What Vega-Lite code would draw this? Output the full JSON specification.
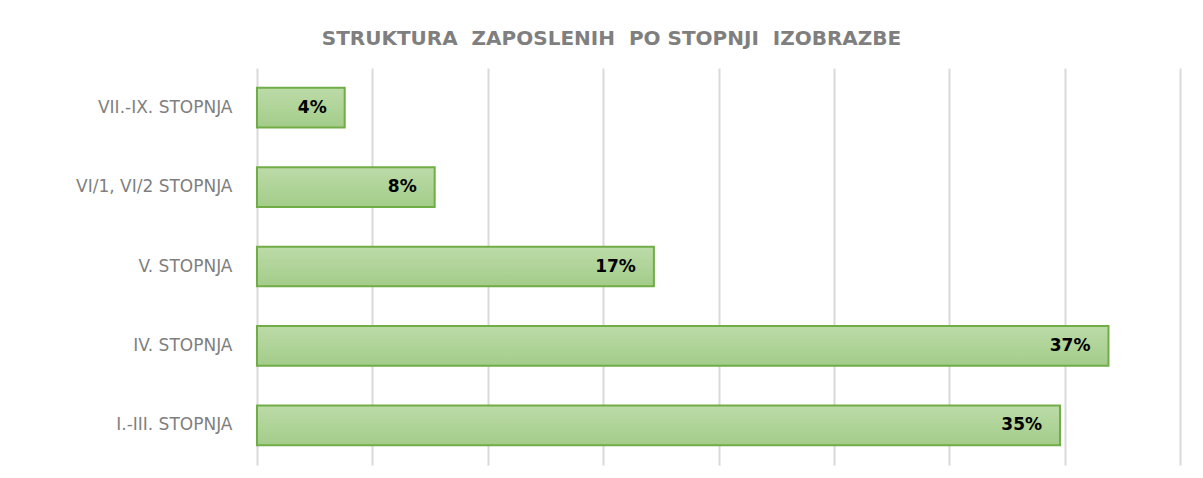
{
  "$schema": "https://vega.github.io/schema/vega-lite/v6.json",
  "width": 923,
  "height": 397,
  "autosize": {"type": "none"},
  "padding": {"left": 257, "top": 68, "right": 23, "bottom": 13},
  "background": "white",
  "title": {
    "text": "STRUKTURA\u00a0\u00a0ZAPOSLENIH\u00a0\u00a0PO STOPNJI\u00a0\u00a0IZOBRAZBE",
    "font": "DejaVu Sans",
    "fontSize": 20,
    "fontWeight": "bold",
    "color": "#7f7f7f",
    "anchor": "middle",
    "dx": -107,
    "offset": 19
  },
  "data": {
    "values": [
      {"level": "VII.-IX. STOPNJA", "share": 0.038},
      {"level": "VI/1, VI/2 STOPNJA", "share": 0.077},
      {"level": "V. STOPNJA", "share": 0.172},
      {"level": "IV. STOPNJA", "share": 0.369},
      {"level": "I.-III. STOPNJA", "share": 0.348}
    ]
  },
  "encoding": {
    "y": {
      "field": "level",
      "type": "nominal",
      "sort": ["VII.-IX. STOPNJA", "VI/1, VI/2 STOPNJA", "V. STOPNJA", "IV. STOPNJA", "I.-III. STOPNJA"],
      "scale": {"paddingInner": 0.5, "paddingOuter": 0.25},
      "axis": {
        "title": null,
        "domain": false,
        "ticks": false,
        "labelPadding": 25,
        "labelFont": "DejaVu Sans",
        "labelFontSize": 17,
        "labelColor": "#7f7f7f"
      }
    },
    "x": {
      "field": "share",
      "type": "quantitative",
      "scale": {"domain": [0, 0.4], "nice": false},
      "axis": {
        "title": null,
        "labels": false,
        "ticks": false,
        "domain": false,
        "grid": true,
        "gridColor": "#d9d9d9",
        "gridWidth": 2,
        "values": [0, 0.05, 0.1, 0.15, 0.2, 0.25, 0.3, 0.35, 0.4]
      }
    }
  },
  "layer": [
    {
      "mark": {
        "type": "bar",
        "fill": {
          "gradient": "linear",
          "x1": 0, "y1": 0, "x2": 0, "y2": 1,
          "stops": [
            {"offset": 0, "color": "#bcdba8"},
            {"offset": 1, "color": "#a3cc89"}
          ]
        },
        "stroke": "#70ad47",
        "strokeWidth": 2
      }
    },
    {
      "mark": {
        "type": "text",
        "align": "right",
        "baseline": "middle",
        "dx": -18,
        "font": "DejaVu Sans",
        "fontSize": 17,
        "fontWeight": "bold",
        "color": "#000000"
      },
      "encoding": {
        "text": {"field": "share", "type": "quantitative", "format": ".0%"}
      }
    }
  ],
  "config": {"view": {"stroke": null}}
}
